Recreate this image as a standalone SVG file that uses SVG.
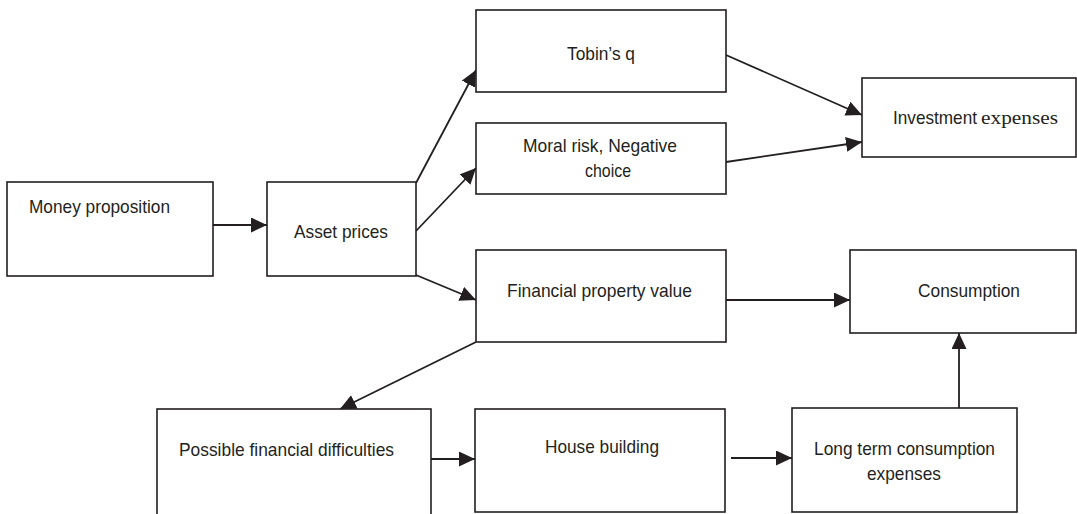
<svg xmlns="http://www.w3.org/2000/svg" width="1077" height="514" viewBox="0 0 1077 514">
<style>
.box{fill:#fff;stroke:#231f20;stroke-width:1.6}
.t{font-family:"Liberation Sans",Arial,sans-serif;font-size:19px;fill:#231f20}
.s{font-family:"Liberation Serif","Times New Roman",serif;font-size:19px;fill:#231f20}
.ln{stroke:#231f20;stroke-width:1.8;fill:none}
</style>
<defs>
<marker id="ah" markerUnits="userSpaceOnUse" markerWidth="18" markerHeight="16" refX="16" refY="7.5" orient="auto">
<path d="M0,0 L16,7.5 L0,15 z" fill="#231f20"/>
</marker>
</defs>
<rect width="1077" height="514" fill="#fff"/>
<g id="connectors">
<line class="ln" x1="213" y1="225" x2="267" y2="225" marker-end="url(#ah)"/>
<line class="ln" x1="416" y1="183" x2="476" y2="70" marker-end="url(#ah)"/>
<line class="ln" x1="416" y1="231" x2="476" y2="168" marker-end="url(#ah)"/>
<line class="ln" x1="416" y1="275" x2="476" y2="300" marker-end="url(#ah)"/>
<line class="ln" x1="726" y1="55" x2="862" y2="115" marker-end="url(#ah)"/>
<line class="ln" x1="726" y1="162" x2="862" y2="142" marker-end="url(#ah)"/>
<line class="ln" x1="726" y1="300" x2="850" y2="300" marker-end="url(#ah)"/>
<line class="ln" x1="476" y1="342" x2="340" y2="409" marker-end="url(#ah)"/>
<line class="ln" x1="431" y1="459" x2="475" y2="459" marker-end="url(#ah)"/>
<line class="ln" x1="731" y1="458" x2="792" y2="458" marker-end="url(#ah)"/>
<line class="ln" x1="959" y1="408" x2="959" y2="333" marker-end="url(#ah)"/>
</g>
<g id="money">
<rect class="box" x="7" y="182" width="206" height="94"/>
<text class="t" x="29" y="213" textLength="141" lengthAdjust="spacingAndGlyphs">Money proposition</text>
</g>
<g id="asset">
<rect class="box" x="267" y="182" width="149" height="94"/>
<text class="t" x="294" y="238" textLength="94" lengthAdjust="spacingAndGlyphs">Asset prices</text>
</g>
<g id="tobin">
<rect class="box" x="476" y="10" width="250" height="82"/>
<text class="t" x="567" y="60" textLength="68" lengthAdjust="spacingAndGlyphs">Tobin’s q</text>
</g>
<g id="moral">
<rect class="box" x="476" y="123" width="250" height="71"/>
<text class="t" x="523" y="152" textLength="154" lengthAdjust="spacingAndGlyphs">Moral risk, Negative</text>
<text class="t" x="585" y="177" textLength="46" lengthAdjust="spacingAndGlyphs">choice</text>
</g>
<g id="investment">
<rect class="box" x="862" y="78" width="214" height="79"/>
<text class="t" x="893" y="124" textLength="84" lengthAdjust="spacingAndGlyphs">Investment</text>
<text class="s" x="981" y="124" textLength="77" lengthAdjust="spacingAndGlyphs">expenses</text>
</g>
<g id="financial">
<rect class="box" x="476" y="250" width="250" height="92"/>
<text class="t" x="507" y="297" textLength="185" lengthAdjust="spacingAndGlyphs">Financial property value</text>
</g>
<g id="consumption">
<rect class="box" x="850" y="250" width="226" height="83"/>
<text class="t" x="918" y="297" textLength="102" lengthAdjust="spacingAndGlyphs">Consumption</text>
</g>
<g id="difficulties">
<rect class="box" x="157" y="409" width="274" height="110"/>
<text class="t" x="179" y="456" textLength="215" lengthAdjust="spacingAndGlyphs">Possible financial difficulties</text>
</g>
<g id="house">
<rect class="box" x="475" y="409" width="250" height="103"/>
<text class="t" x="545" y="453" textLength="114" lengthAdjust="spacingAndGlyphs">House building</text>
</g>
<g id="longterm">
<rect class="box" x="792" y="408" width="225" height="104"/>
<text class="t" x="814" y="455" textLength="181" lengthAdjust="spacingAndGlyphs">Long term consumption</text>
<text class="t" x="867" y="480" textLength="74" lengthAdjust="spacingAndGlyphs">expenses</text>
</g>
</svg>
